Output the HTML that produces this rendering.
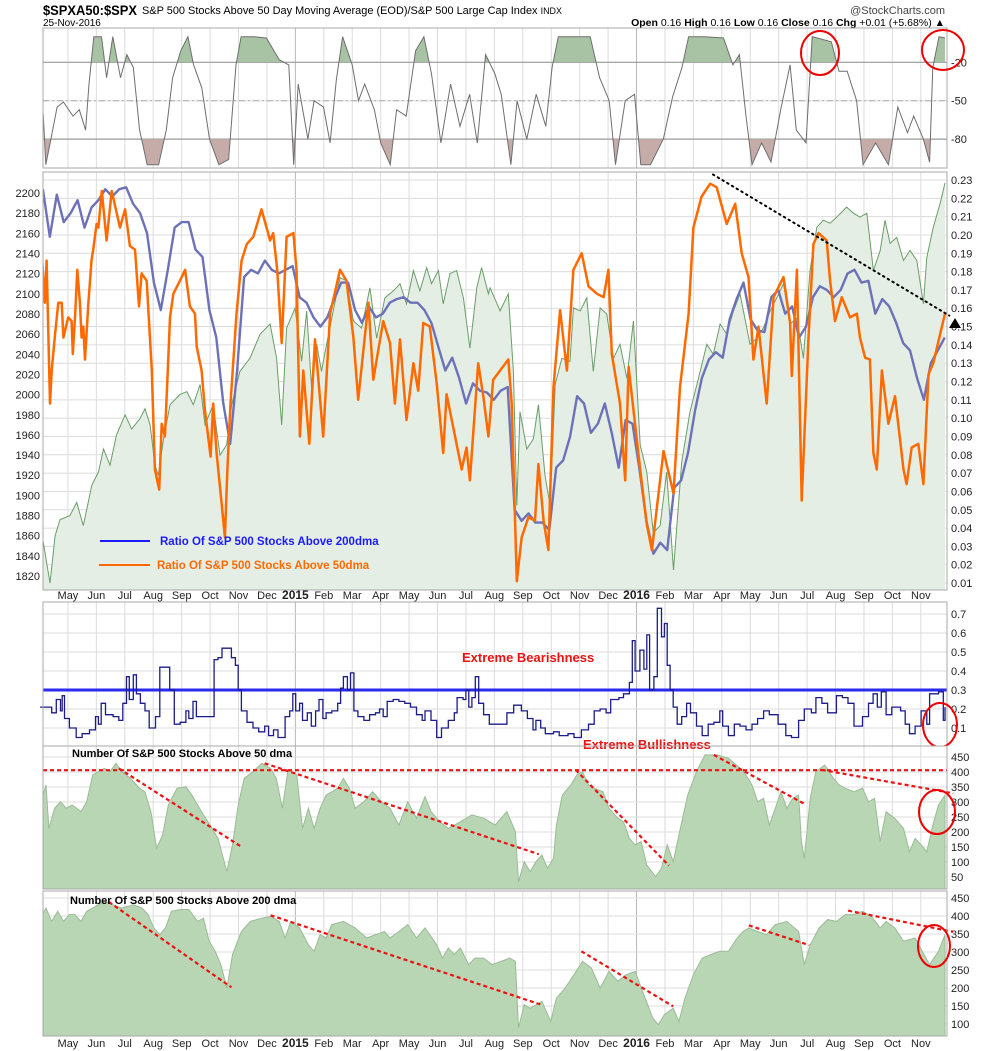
<!DOCTYPE html>
<html><head><meta charset="utf-8"><style>
html,body{margin:0;padding:0;background:#fff;}
svg{display:block;font-family:"Liberation Sans",Arial,sans-serif;}
</style></head><body>
<svg id="chart" width="990" height="1051" viewBox="0 0 990 1051" xmlns="http://www.w3.org/2000/svg">
<defs>
<clipPath id="clipP2"><rect x="43" y="172" width="905" height="418"/></clipPath>
<clipPath id="clipP4"><rect x="43" y="746" width="905" height="143"/></clipPath>
<clipPath id="clipP5"><rect x="43" y="891" width="905" height="145"/></clipPath>
</defs>
<g>
<text x="43" y="15" font-size="14" font-weight="bold" fill="#000" textLength="94" lengthAdjust="spacingAndGlyphs">$SPXA50:$SPX</text>
<text x="142" y="14" font-size="11" fill="#000" textLength="420" lengthAdjust="spacingAndGlyphs">S&amp;P 500 Stocks Above 50 Day Moving Average (EOD)/S&amp;P 500 Large Cap Index <tspan font-size="9">INDX</tspan></text>
<text x="945" y="14" font-size="11" fill="#444" text-anchor="end">@StockCharts.com</text>
<text x="43" y="26" font-size="10" fill="#000">25-Nov-2016</text>
<text x="945" y="26" font-size="10.5" fill="#000" text-anchor="end"><tspan font-weight="bold">Open</tspan> 0.16 <tspan font-weight="bold">High</tspan> 0.16 <tspan font-weight="bold">Low</tspan> 0.16 <tspan font-weight="bold">Close</tspan> 0.16 <tspan font-weight="bold">Chg</tspan> +0.01 (+5.68%) ▲</text>
</g>
<g id="root"></g>
</svg>
<script>
// ---------- DATA ----------
const monthLabels = ['May','Jun','Jul','Aug','Sep','Oct','Nov','Dec','2015','Feb','Mar','Apr','May','Jun','Jul','Aug','Sep','Oct','Nov','Dec','2016','Feb','Mar','Apr','May','Jun','Jul','Aug','Sep','Oct','Nov'];
const leftTicksP2 = [2200,2180,2160,2140,2120,2100,2080,2060,2040,2020,2000,1980,1960,1940,1920,1900,1880,1860,1840,1820];
const rightTicksP2 = [0.23,0.22,0.21,0.20,0.19,0.18,0.17,0.16,0.15,0.14,0.13,0.12,0.11,0.10,0.09,0.08,0.07,0.06,0.05,0.04,0.03,0.02,0.01];
const ticksP1 = [-20,-50,-80];
const ticksP3 = [0.1,0.2,0.3,0.4,0.5,0.6,0.7];
const ticksP4 = [50,100,150,200,250,300,350,400,450];
const ticksP5 = [100,150,200,250,300,350,400,450];

const p1Months = [0.13,0.22,0.40,0.62,0.84,1.18,1.40,1.62,1.74,1.91,2.18,2.36,2.58,2.85,3.07,3.30,3.52,3.79,4.19,4.46,4.68,4.97,5.22,5.42,5.71,5.98,6.31,6.65,6.91,7.09,7.54,7.98,8.43,8.77,8.94,9.10,9.44,9.66,9.99,10.22,10.44,10.66,11.0,11.22,11.44,11.78,12.0,12.34,12.56,12.9,13.23,13.52,13.79,14.12,14.46,14.79,15.13,15.4,15.69,16.02,16.24,16.58,16.8,17.14,17.47,17.81,18.03,18.25,19.37,19.7,20.04,20.26,20.6,20.93,21.15,21.49,21.94,22.27,22.6,22.83,23.39,24.06,24.39,24.62,24.84,25.06,25.4,25.73,26.07,26.4,26.62,26.96,27.18,27.85,28.12,28.41,28.74,28.97,29.41,29.86,30.19,30.53,30.75,31.09,31.31,31.42,31.64,31.85];
const p1Values = [-60,-100,-80,-55,-51,-62,-57,-73,-37,0,0,-32,0,-32,-14,-24,-73,-100,-100,-73,-32,-11,0,-22,-40,-80,-100,-96,-22,0,0,-1,-18,-22,-100,-37,-80,-50,-55,-83,-34,0,-22,-50,-37,-57,-83,-100,-57,-62,-11,0,-29,-83,-37,-70,-45,-83,-14,-29,-45,-100,-50,-80,-45,-70,-24,0,0,-32,-50,-100,-50,-45,-100,-100,-80,-47,-24,0,0,-1,-22,-14,-60,-100,-83,-98,-57,-22,-73,-83,0,-4,-27,-27,-50,-100,-83,-100,-55,-75,-62,-80,-98,-24,0,-1];

const spxMonths = [0.12,0.37,0.55,0.72,1.07,1.31,1.54,1.84,2.07,2.25,2.48,2.71,3.01,3.24,3.53,3.71,3.89,4.06,4.18,4.36,4.59,4.94,5.18,5.41,5.65,5.82,6.11,6.35,6.58,6.76,7.05,7.40,7.76,8.11,8.34,8.52,8.69,8.99,9.22,9.40,9.57,9.75,9.92,10.1,10.33,10.57,10.8,11.04,11.33,11.62,11.86,12.15,12.45,12.68,12.91,13.15,13.38,13.62,13.79,14.03,14.2,14.44,14.67,14.91,15.14,15.38,15.55,15.79,15.85,16.2,16.49,16.67,16.79,16.9,17.14,17.37,17.55,17.78,17.96,18.14,18.37,18.66,18.78,19.02,19.25,19.48,19.72,19.95,20.19,20.42,20.66,20.89,21.13,21.36,21.59,21.83,22.06,22.3,22.59,22.88,23.24,23.47,23.7,23.94,24.17,24.41,24.64,24.99,25.23,25.46,25.7,25.93,26.17,26.4,26.64,26.87,27.1,27.34,27.57,27.81,28.04,28.39,28.63,28.86,29.1,29.33,29.57,29.74,29.92,30.15,30.39,30.62,30.86,31.09,31.21,31.44,31.68,31.85];
const spxValues = [1856,1813,1860,1876,1880,1893,1870,1910,1923,1946,1930,1960,1980,1966,1976,1986,1970,1930,1920,1956,1990,2000,2003,1990,2010,1970,1990,1940,1950,1990,2023,2036,2060,2070,2036,1970,2066,2086,2033,2083,2006,2050,2023,2050,2083,2116,2113,2073,2066,2106,2056,2096,2103,2110,2090,2123,2103,2126,2110,2123,2090,2120,2123,2096,2046,2106,2126,2100,2106,2083,2100,2023,1890,1983,1946,1956,1990,1920,1890,2010,2036,2033,2086,2083,2096,2023,2086,2080,2036,2050,2016,2073,1950,1923,1863,1870,1923,1826,1933,1983,2023,2050,2040,2070,2060,2083,2100,2050,2056,2066,2083,2096,2110,2070,2076,2036,2123,2166,2173,2170,2176,2186,2180,2176,2180,2123,2143,2173,2150,2156,2133,2143,2133,2090,2136,2166,2190,2210];

const blueStartMonth = 0.12;
const blueStepMonths = 0.244;
const blueValues = [0.225,0.199,0.222,0.207,0.212,0.219,0.204,0.215,0.219,0.225,0.221,0.225,0.226,0.217,0.212,0.201,0.174,0.159,0.181,0.204,0.207,0.207,0.192,0.188,0.159,0.144,0.108,0.086,0.126,0.177,0.181,0.179,0.186,0.181,0.179,0.181,0.183,0.166,0.163,0.155,0.150,0.155,0.165,0.174,0.174,0.159,0.152,0.161,0.155,0.157,0.163,0.165,0.166,0.163,0.163,0.159,0.152,0.139,0.126,0.133,0.122,0.108,0.119,0.115,0.114,0.110,0.115,0.117,0.050,0.044,0.048,0.043,0.043,0.039,0.073,0.077,0.090,0.112,0.108,0.092,0.097,0.108,0.092,0.073,0.099,0.097,0.072,0.044,0.026,0.032,0.028,0.062,0.066,0.081,0.104,0.122,0.132,0.136,0.133,0.154,0.165,0.174,0.154,0.148,0.147,0.166,0.170,0.157,0.161,0.144,0.150,0.166,0.172,0.170,0.166,0.170,0.179,0.181,0.174,0.175,0.157,0.165,0.161,0.152,0.141,0.137,0.122,0.110,0.130,0.137,0.144];

const orangeMonths = [0.02,0.19,0.25,0.37,0.43,0.55,0.66,0.78,0.84,1.01,1.13,1.17,1.25,1.33,1.42,1.48,1.54,1.60,1.72,1.83,1.89,2.01,2.07,2.19,2.36,2.54,2.83,3.01,3.18,3.36,3.50,3.59,3.77,3.95,4.06,4.21,4.30,4.41,4.50,4.59,4.71,4.94,5.12,5.29,5.47,5.53,5.70,5.82,6.02,6.11,6.23,6.41,6.52,6.61,6.72,6.93,7.11,7.29,7.52,7.81,8.11,8.22,8.36,8.52,8.69,8.93,9.04,9.16,9.28,9.49,9.69,9.98,10.22,10.57,10.80,11.04,11.21,11.57,11.74,12.09,12.33,12.50,12.68,12.91,13.15,13.32,13.50,13.73,13.97,14.20,14.32,14.85,15.02,15.14,15.43,15.61,15.79,15.96,16.20,16.49,16.61,16.79,16.96,17.20,17.43,17.55,17.73,17.90,18.08,18.31,18.55,18.78,19.07,19.31,19.60,19.84,20.01,20.13,20.42,20.60,20.72,21.13,21.36,21.54,21.95,22.30,22.53,22.83,23.00,23.29,23.59,23.82,24.17,24.47,24.70,24.94,25.11,25.29,25.58,25.82,26.17,26.40,26.46,26.64,26.81,27.05,27.22,27.40,27.69,27.81,27.98,28.22,28.51,28.75,28.86,29.04,29.21,29.33,29.45,29.63,29.86,30.09,30.39,30.50,30.68,30.91,31.09,31.27,31.44,31.74,31.85];
const orangeValues = [0.204,0.163,0.186,0.108,0.126,0.146,0.163,0.163,0.144,0.155,0.153,0.135,0.155,0.181,0.163,0.144,0.150,0.132,0.163,0.186,0.192,0.206,0.204,0.224,0.197,0.224,0.204,0.214,0.194,0.192,0.161,0.179,0.175,0.126,0.072,0.061,0.097,0.090,0.121,0.155,0.168,0.175,0.181,0.161,0.157,0.139,0.126,0.104,0.079,0.108,0.081,0.053,0.035,0.072,0.108,0.157,0.186,0.195,0.199,0.214,0.197,0.201,0.181,0.141,0.199,0.201,0.181,0.090,0.126,0.086,0.143,0.090,0.157,0.181,0.175,0.144,0.110,0.163,0.121,0.153,0.141,0.108,0.143,0.099,0.130,0.115,0.152,0.150,0.119,0.081,0.113,0.072,0.084,0.066,0.130,0.112,0.090,0.121,0.126,0.132,0.108,0.011,0.035,0.046,0.044,0.075,0.044,0.028,0.117,0.159,0.126,0.181,0.190,0.172,0.168,0.166,0.181,0.135,0.108,0.066,0.128,0.072,0.042,0.028,0.082,0.059,0.117,0.157,0.204,0.221,0.228,0.226,0.206,0.217,0.190,0.177,0.132,0.150,0.108,0.166,0.177,0.152,0.123,0.181,0.055,0.144,0.195,0.201,0.197,0.175,0.153,0.166,0.155,0.157,0.144,0.133,0.132,0.081,0.072,0.126,0.097,0.112,0.072,0.064,0.084,0.086,0.064,0.124,0.130,0.150,0.157];

const trendP2Months = [23.69,32.0];
const trendP2Values = [0.233,0.156];

const p3Months = [0.02,0.33,0.43,0.59,0.74,0.80,0.88,1.05,1.29,1.50,1.76,1.97,2.07,2.17,2.32,2.59,2.79,2.93,3.06,3.16,3.30,3.41,3.55,3.71,3.86,4.08,4.23,4.43,4.58,4.74,4.95,5.15,5.25,5.40,5.52,5.97,6.14,6.28,6.42,6.59,6.75,6.89,6.99,7.10,7.30,7.51,7.71,7.92,8.06,8.23,8.39,8.64,8.80,8.91,9.01,9.15,9.25,9.42,9.56,9.71,9.83,9.97,10.08,10.28,10.49,10.59,10.69,10.83,10.94,11.06,11.20,11.41,11.61,11.82,11.96,12.09,12.23,12.44,12.64,12.85,13.05,13.26,13.46,13.56,13.77,13.97,14.14,14.38,14.59,14.69,14.90,15.00,15.10,15.21,15.33,15.45,15.62,15.82,16.13,16.44,16.68,16.95,17.16,17.36,17.46,17.63,17.79,18.08,18.28,18.59,18.80,19.06,19.31,19.51,19.72,19.93,20.09,20.38,20.54,20.75,20.85,20.95,21.12,21.26,21.36,21.46,21.61,21.73,21.88,21.98,22.08,22.18,22.29,22.43,22.59,22.76,22.90,23.11,23.31,23.52,23.72,23.93,24.03,24.23,24.44,24.64,24.85,25.06,25.26,25.47,25.67,25.98,26.25,26.45,26.70,26.90,27.15,27.31,27.52,27.72,28.03,28.24,28.44,28.65,28.95,29.16,29.32,29.47,29.61,29.78,29.98,30.29,30.45,30.60,30.80,31.01,31.21,31.31,31.62,31.79,31.85];
const p3Values = [0.21,0.21,0.18,0.25,0.19,0.27,0.15,0.10,0.05,0.07,0.09,0.16,0.12,0.23,0.17,0.16,0.14,0.23,0.37,0.25,0.38,0.28,0.23,0.19,0.10,0.16,0.42,0.42,0.30,0.12,0.13,0.19,0.15,0.24,0.16,0.16,0.46,0.47,0.52,0.52,0.47,0.43,0.30,0.19,0.13,0.10,0.08,0.11,0.06,0.09,0.05,0.16,0.19,0.28,0.19,0.23,0.14,0.18,0.11,0.19,0.25,0.15,0.18,0.19,0.23,0.31,0.37,0.30,0.39,0.19,0.16,0.14,0.17,0.18,0.20,0.16,0.24,0.25,0.24,0.23,0.21,0.17,0.14,0.19,0.14,0.05,0.10,0.14,0.18,0.26,0.25,0.30,0.21,0.26,0.37,0.23,0.17,0.12,0.12,0.18,0.22,0.19,0.15,0.09,0.14,0.10,0.07,0.08,0.06,0.07,0.05,0.09,0.12,0.19,0.20,0.18,0.25,0.26,0.28,0.34,0.56,0.40,0.51,0.41,0.59,0.30,0.37,0.73,0.58,0.65,0.43,0.30,0.21,0.12,0.16,0.23,0.18,0.11,0.06,0.12,0.13,0.19,0.11,0.06,0.12,0.11,0.09,0.12,0.15,0.19,0.17,0.12,0.06,0.05,0.14,0.20,0.18,0.26,0.23,0.18,0.27,0.26,0.23,0.11,0.16,0.23,0.28,0.21,0.29,0.17,0.21,0.19,0.12,0.07,0.11,0.19,0.12,0.28,0.29,0.14,0.21];
const p3Threshold = 0.3;

const p4Months = [0.02,0.23,0.33,0.53,0.74,0.94,1.15,1.46,1.66,1.87,2.07,2.28,2.48,2.69,2.89,3.20,3.51,3.71,3.92,4.12,4.33,4.53,4.84,5.15,5.36,5.56,5.77,6.07,6.28,6.59,6.79,6.99,7.20,7.51,7.82,8.13,8.33,8.54,8.74,9.05,9.25,9.46,9.66,9.87,10.08,10.28,10.49,10.69,10.90,11.10,11.41,11.72,12.02,12.33,12.64,12.95,13.26,13.56,13.77,14.08,14.38,14.80,15.21,15.62,16.03,16.44,16.74,16.85,17.05,17.26,17.46,17.67,17.87,18.08,18.18,18.39,18.69,18.90,19.10,19.31,19.51,19.82,20.03,20.34,20.54,20.75,20.95,21.16,21.36,21.67,21.88,22.08,22.29,22.49,22.80,23.11,23.41,23.83,24.23,24.65,24.85,25.06,25.26,25.47,25.67,25.88,26.08,26.29,26.49,26.70,26.80,26.90,27.11,27.31,27.62,27.93,28.13,28.34,28.65,28.95,29.16,29.37,29.57,29.78,30.08,30.39,30.60,30.80,31.01,31.21,31.42,31.62,31.85];
const p4Values = [290,357,212,279,301,279,290,268,301,390,401,412,401,429,401,379,346,334,268,146,190,290,346,351,323,290,257,212,179,68,157,290,379,401,429,412,379,279,407,390,212,279,212,279,323,334,346,379,346,279,301,334,301,279,223,301,246,318,268,234,212,234,257,246,223,268,201,34,101,68,101,123,79,112,223,323,357,390,401,357,346,334,279,246,234,179,157,168,90,51,79,157,101,190,323,401,457,457,446,412,390,357,301,312,223,279,334,279,312,323,168,112,312,401,423,379,357,346,334,346,301,312,168,268,246,212,134,179,157,134,223,290,323];
const p4Threshold = 406;
const p4TrendStartMonths = [2.79,7.92,18.86,23.72,27.52];
const p4TrendStartValues = [412,429,407,457,407];
const p4TrendEndMonths = [7.10,17.56,22.14,26.94,32.14];
const p4TrendEndValues = [151,126,88,292,329];

const p5Months = [0.02,0.23,0.43,0.64,0.84,1.05,1.25,1.46,1.66,1.87,2.07,2.28,2.59,2.89,3.30,3.61,3.82,4.02,4.23,4.43,4.64,4.95,5.25,5.56,5.77,5.97,6.18,6.38,6.59,6.79,7.10,7.41,7.82,8.13,8.43,8.64,8.84,9.15,9.46,9.66,9.87,10.08,10.28,10.69,11.10,11.51,11.82,12.13,12.33,12.64,12.95,13.26,13.56,13.97,14.18,14.38,14.59,14.80,15.10,15.31,15.62,15.92,16.23,16.54,16.74,16.85,17.05,17.26,17.67,17.98,18.18,18.49,18.80,19.10,19.41,19.72,20.03,20.34,20.64,20.95,21.26,21.57,21.77,21.98,22.29,22.49,22.70,23.00,23.31,23.62,23.93,24.23,24.54,24.75,24.95,25.26,25.57,25.88,26.29,26.70,26.90,27.11,27.42,27.72,28.03,28.34,28.65,28.95,29.26,29.57,29.78,30.08,30.39,30.80,31.11,31.31,31.62,31.85];
const p5Values = [394,422,385,413,385,404,404,385,413,422,431,441,431,422,431,422,404,367,348,367,413,418,418,385,394,330,302,265,200,293,357,385,394,399,385,339,385,367,320,302,348,339,376,385,367,339,348,357,339,357,376,339,367,320,283,311,293,311,265,283,283,265,274,283,274,89,154,144,163,107,172,200,237,274,256,200,246,219,237,246,181,117,98,126,144,107,172,237,283,293,302,302,339,357,367,357,348,376,385,357,265,320,367,390,385,404,404,413,399,367,385,367,330,339,293,265,302,348];
const p5TrendStartMonths = [2.44,8.13,19.06,24.95,28.44];
const p5TrendStartValues = [439,402,302,374,415];
const p5TrendEndMonths = [6.75,17.71,22.29,27.07,32.14];
const p5TrendEndValues = [202,152,149,319,356];

// ---------- SCALES ----------
const L = 43, R = 947;
function X(m){ return 39.5 + 28.43*m; }
function y1(v){ return 36.7 - v*1.28; }
function yL(v){ return 193 + (2200 - v)*1.008; }
function yR(r){ return 180 + (0.23 - r)*1832; }
function y3(v){ return 690 - (v - 0.3)*190; }
function y4(v){ return 757 + (450 - v)*0.3; }
function y5(v){ return 916 + (400 - v)*0.36; }

const NS = 'http://www.w3.org/2000/svg';
const root = document.getElementById('root');
function el(tag, attrs, parent, name){
  const e = document.createElementNS(NS, tag);
  for (const k in attrs) e.setAttribute(k, attrs[k]);
  
  
  (parent || root).appendChild(e);
  return e;
}
function txt(x, y, s, attrs, parent, name){
  const t = el('text', Object.assign({x:x, y:y, 'font-size':11, fill:'#222'}, attrs), parent, name);
  t.textContent = s;
  return t;
}
function linePath(ms, vs, yf){
  let d = '';
  for (let i=0;i<ms.length;i++) d += (i?'L':'M') + X(ms[i]).toFixed(1) + ' ' + yf(vs[i]).toFixed(1);
  return d;
}
function panel(top, bottom, name, yTicks, yf, tickFmt){
  const g = el('g', {}, root, name);
  el('rect', {x:L, y:top, width:R-L, height:bottom-top, fill:'#fff', stroke:'none'}, g, name+'-background');
  for (let i=1;i<=31;i++){
    const yr = (monthLabels[i-1]==='2015'||monthLabels[i-1]==='2016');
    el('line', {x1:X(i), x2:X(i), y1:top, y2:bottom, stroke: yr?'#b8b8b8':'#dcdcdc', 'stroke-width':1}, g, 'vertical-gridline');
  }
  yTicks.forEach(v=>{
    const y = yf(v);
    el('line', {x1:L, x2:R, y1:y, y2:y, stroke:'#dcdcdc', 'stroke-width':1}, g, 'horizontal-gridline');
    txt(R+4, y+4, tickFmt(v), {'font-size':11, fill:'#222'}, g, 'right-axis-tick-label');
  });
  return g;
}
function frame(top,bottom,name){
  el('rect', {x:L, y:top, width:R-L, height:bottom-top, fill:'none', stroke:'#a8a8a8', 'stroke-width':1}, root, name+'-border');
}
function monthAxis(y, name){
  const g = el('g', {}, root, name);
  monthLabels.forEach((s,i)=>{
    const yr = (s==='2015'||s==='2016');
    txt(X(i+1), y, s, {'text-anchor':'middle', 'font-size': yr?12:11, 'font-weight': yr?'bold':'normal', fill:'#222'}, g, 'month-label');
  });
}
function areaPath(ms, vs, yf, base){
  return linePath(ms, vs, yf) + 'L' + X(ms[ms.length-1]).toFixed(1) + ' ' + base + 'L' + X(ms[0]).toFixed(1) + ' ' + base + 'Z';
}

// ---------- PANEL 1 ----------
const g1 = panel(28, 168, 'oscillator-panel', ticksP1, y1, v=>String(v));
el('line', {x1:L,x2:R,y1:y1(-20),y2:y1(-20),stroke:'#999','stroke-width':1.2}, g1, 'overbought-line');
el('line', {x1:L,x2:R,y1:y1(-80),y2:y1(-80),stroke:'#999','stroke-width':1.2}, g1, 'oversold-line');
el('line', {x1:L,x2:R,y1:y1(-50),y2:y1(-50),stroke:'#aaa','stroke-width':1,'stroke-dasharray':'6 3 2 3'}, g1, 'midline');
const cpA = el('clipPath', {id:'cpAbove'}, g1, 'clip-above');
el('rect', {x:L, y:28, width:R-L, height:y1(-20)-28}, cpA, 'clip-rect');
const cpB = el('clipPath', {id:'cpBelow'}, g1, 'clip-below');
el('rect', {x:L, y:y1(-80), width:R-L, height:168-y1(-80)}, cpB, 'clip-rect');
el('path', {d:areaPath(p1Months,p1Values,y1,y1(-20)), fill:'#a7c3a4', 'clip-path':'url(#cpAbove)', stroke:'none'}, g1, 'overbought-fill');
el('path', {d:areaPath(p1Months,p1Values,y1,y1(-80)), fill:'#c6aca9', 'clip-path':'url(#cpBelow)', stroke:'none'}, g1, 'oversold-fill');
el('path', {d:linePath(p1Months,p1Values,y1), fill:'none', stroke:'#6e6e6e', 'stroke-width':1}, g1, 'oscillator-line');
frame(28,168,'oscillator-panel');
el('ellipse', {cx:820, cy:53, rx:19, ry:22, fill:'none', stroke:'#e00', 'stroke-width':2}, root, 'annotation-circle');
el('ellipse', {cx:943, cy:50, rx:21, ry:20, fill:'none', stroke:'#e00', 'stroke-width':2}, root, 'annotation-circle');

// ---------- PANEL 2 ----------
const g2 = panel(172, 590, 'main-panel', rightTicksP2, yR, v=>v.toFixed(2));
leftTicksP2.forEach(v=>{
  txt(40, yL(v)+4, String(v), {'text-anchor':'end','font-size':11,fill:'#222'}, g2, 'left-axis-tick-label');
});
const g2c = el('g', {'clip-path':'url(#clipP2)'}, g2, 'main-plot-area');
el('path', {d:areaPath(spxMonths,spxValues,yL,590), fill:'#e5eee4', stroke:'none'}, g2c, 'spx-area');
el('path', {d:linePath(spxMonths,spxValues,yL), fill:'none', stroke:'#6a9d68', 'stroke-width':1}, g2c, 'spx-line');
const blueMonths = blueValues.map((v,i)=>blueStartMonth + i*blueStepMonths);
el('path', {d:linePath(blueMonths,blueValues,yR), fill:'none', stroke:'#6d72b8', 'stroke-width':2.4, 'stroke-linejoin':'round'}, g2c, 'ratio-200dma-line');
el('path', {d:linePath(orangeMonths,orangeValues,yR), fill:'none', stroke:'#ff6a00', 'stroke-width':2.5, 'stroke-linejoin':'round'}, g2c, 'ratio-50dma-line');
el('path', {d:linePath(trendP2Months,trendP2Values,yR), fill:'none', stroke:'#000', 'stroke-width':2, 'stroke-dasharray':'1.5 4', 'stroke-linecap':'round'}, g2, 'resistance-trendline');
el('path', {d:'M949 328 L955 318 L961 328 Z', fill:'#000'}, g2, 'last-value-marker');
el('line', {x1:100,x2:150,y1:541,y2:541,stroke:'#1a1aff','stroke-width':2}, g2, 'legend-200dma-swatch');
txt(160, 545, 'Ratio Of S&P 500 Stocks Above 200dma', {'font-size':11.5,'font-weight':'bold',fill:'#1a1aff'}, g2, 'legend-200dma-label');
el('line', {x1:99,x2:150,y1:565,y2:565,stroke:'#ff6a00','stroke-width':2}, g2, 'legend-50dma-swatch');
txt(157, 569, 'Ratio Of S&P 500 Stocks Above 50dma', {'font-size':11.5,'font-weight':'bold',fill:'#ff6a00'}, g2, 'legend-50dma-label');
frame(172,590,'main-panel');
monthAxis(599, 'top-month-axis');

// ---------- PANEL 3 ----------
const g3 = panel(602, 746, 'sentiment-panel', ticksP3, y3, v=>v.toFixed(1));
let d3 = '';
for (let i=0;i<p3Months.length;i++){
  const x = X(p3Months[i]).toFixed(1), y = y3(p3Values[i]).toFixed(1);
  if (i===0) d3 = 'M'+x+' '+y; else d3 += 'H'+x+'V'+y;
}
el('line', {x1:L,x2:R,y1:y3(p3Threshold),y2:y3(p3Threshold),stroke:'#2a2af0','stroke-width':3}, g3, 'threshold-line');
el('path', {d:d3, fill:'none', stroke:'#1c1c8a', 'stroke-width':1.3}, g3, 'sentiment-step-line');
txt(462, 662, 'Extreme Bearishness', {'font-size':13,'font-weight':'bold',fill:'#ee1111'}, g3, 'extreme-bearishness-label');
frame(602,746,'sentiment-panel');
el('ellipse', {cx:940, cy:725, rx:17, ry:22, fill:'none', stroke:'#e00', 'stroke-width':2}, root, 'annotation-circle');

// ---------- PANEL 4 ----------
const g4 = panel(746, 889, 'above-50dma-panel', ticksP4, y4, v=>String(v));
const g4c = el('g', {'clip-path':'url(#clipP4)'}, g4, 'above-50dma-plot');
el('path', {d:areaPath(p4Months,p4Values,y4,889), fill:'#b8d5b4', stroke:'#9bbb97', 'stroke-width':1}, g4c, 'above-50dma-area');
el('line', {x1:L,x2:R,y1:y4(p4Threshold),y2:y4(p4Threshold),stroke:'#ee1111','stroke-width':2.2,'stroke-dasharray':'4 3'}, g4, 'overbought-threshold-line');
p4TrendStartMonths.forEach((m,i)=>{
  el('line', {x1:X(m),y1:y4(p4TrendStartValues[i]),x2:X(p4TrendEndMonths[i]),y2:y4(p4TrendEndValues[i]),stroke:'#ee1111','stroke-width':2.2,'stroke-dasharray':'4 3'}, g4, 'trendline');
});
txt(72, 757, 'Number Of S&P 500 Stocks Above 50 dma', {'font-size':11,'font-weight':'bold',fill:'#000'}, g4, 'panel-title-50dma');
txt(583, 749, 'Extreme Bullishness', {'font-size':13,'font-weight':'bold',fill:'#ee1111'}, root, 'extreme-bullishness-label');
frame(746,889,'above-50dma-panel');
el('ellipse', {cx:937, cy:812, rx:18, ry:22, fill:'none', stroke:'#e00', 'stroke-width':2}, root, 'annotation-circle');

// ---------- PANEL 5 ----------
const g5 = panel(891, 1036, 'above-200dma-panel', ticksP5, y5, v=>String(v));
const g5c = el('g', {'clip-path':'url(#clipP5)'}, g5, 'above-200dma-plot');
el('path', {d:areaPath(p5Months,p5Values,y5,1036), fill:'#b8d5b4', stroke:'#9bbb97', 'stroke-width':1}, g5c, 'above-200dma-area');
p5TrendStartMonths.forEach((m,i)=>{
  el('line', {x1:X(m),y1:y5(p5TrendStartValues[i]),x2:X(p5TrendEndMonths[i]),y2:y5(p5TrendEndValues[i]),stroke:'#ee1111','stroke-width':2.2,'stroke-dasharray':'4 3'}, g5, 'trendline');
});
txt(70, 904, 'Number Of S&P 500 Stocks Above 200 dma', {'font-size':11,'font-weight':'bold',fill:'#000'}, g5, 'panel-title-200dma');
frame(891,1036,'above-200dma-panel');
el('ellipse', {cx:934, cy:946, rx:16, ry:21, fill:'none', stroke:'#e00', 'stroke-width':2}, root, 'annotation-circle');
monthAxis(1047, 'bottom-month-axis');
</script>
</body></html>
